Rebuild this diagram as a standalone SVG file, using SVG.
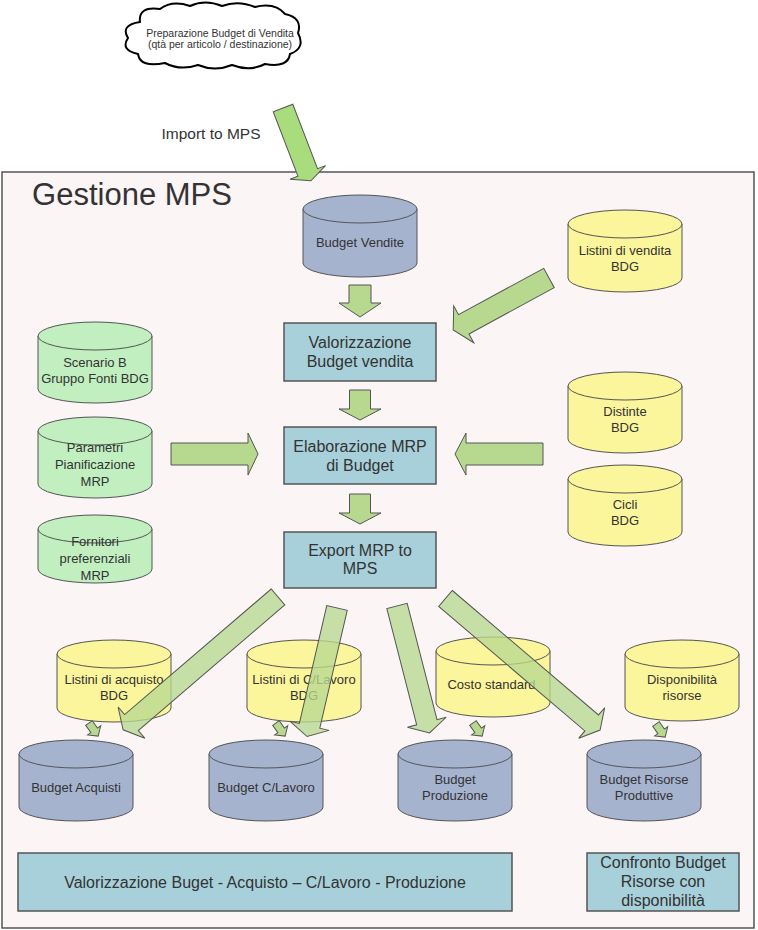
<svg xmlns="http://www.w3.org/2000/svg" width="758" height="930" viewBox="0 0 758 930">
<style>
text{font-family:"Liberation Sans",Arial,sans-serif;fill:#333;text-anchor:middle}
.c13{font-size:13px}
.b16{font-size:16px}
.cyl path,.cyl ellipse{stroke:#555;stroke-width:1}
.blue path,.blue ellipse{fill:#a6b3cf}
.yel path,.yel ellipse{fill:#fbf59b}
.grn path,.grn ellipse{fill:#c1efc0}
.box rect{fill:#a8d0da;stroke:#555;stroke-width:1.5}
.arr polygon{fill:#b7d98f;stroke:#555;stroke-width:1}
.arr .diag{fill-opacity:0.78}
.arr .imp{fill:#a8dc7c}
</style>
<rect id="frame" x="2" y="172" width="752" height="756" fill="#fbf5f5" stroke="#555" stroke-width="1.5"/>
<text x="132" y="205" style="font-size:31px">Gestione MPS</text>
<g id="cloud">
<path d="M140,22 Q138,6 160,9 Q172,0 190,6 Q205,-1 222,6 Q238,0 255,7 Q275,2 285,14 Q303,18 298,33 Q306,48 290,54 Q288,68 265,64 Q250,72 232,65 Q215,72 198,65 Q180,71 165,63 Q140,68 138,54 Q120,50 128,38 Q120,25 140,22 Z" fill="#fff" stroke="#000" stroke-width="2"/>
<text x="220" y="37" style="font-size:10.5px">Preparazione Budget di Vendita</text>
<text x="220" y="48" style="font-size:10.5px">(qtà per articolo / destinazione)</text>
</g>
<text x="211" y="139" style="font-size:15.5px">Import to MPS</text>

<g id="budget-vendite" class="cyl blue"><path d="M303,209 V263 A57,14 0 0 0 417,263 V209 Z"/><ellipse cx="360" cy="209" rx="57" ry="14"/><text class="c13" x="360" y="246.5">Budget Vendite</text></g>
<g id="listini-vendita" class="cyl yel"><path d="M568,224 V278 A57,14 0 0 0 682,278 V224 Z"/><ellipse cx="625" cy="224" rx="57" ry="14"/><text class="c13" x="625" y="254.5">Listini di vendita</text><text class="c13" x="625" y="270.5">BDG</text></g>
<g id="scenario" class="cyl grn"><path d="M38,336 V389 A57,14 0 0 0 152,389 V336 Z"/><ellipse cx="95" cy="336" rx="57" ry="14"/><text class="c13" x="95" y="366.5">Scenario B</text><text class="c13" x="95" y="382.5">Gruppo Fonti BDG</text></g>
<g id="parametri" class="cyl grn"><path d="M38,431 V484 A57,14 0 0 0 152,484 V431 Z"/><ellipse cx="95" cy="431" rx="57" ry="14"/><text class="c13" x="95" y="451.5">Parametri</text><text class="c13" x="95" y="468.5">Pianificazione</text><text class="c13" x="95" y="485.5">MRP</text></g>
<g id="fornitori" class="cyl grn"><path d="M38,529 V569 A57,14 0 0 0 152,569 V529 Z"/><ellipse cx="95" cy="529" rx="57" ry="14"/><text class="c13" x="95" y="546">Fornitori</text><text class="c13" x="95" y="563">preferenziali</text><text class="c13" x="95" y="580">MRP</text></g>
<g id="distinte" class="cyl yel"><path d="M568,386 V439 A57,14 0 0 0 682,439 V386 Z"/><ellipse cx="625" cy="386" rx="57" ry="14"/><text class="c13" x="625" y="415.5">Distinte</text><text class="c13" x="625" y="431.5">BDG</text></g>
<g id="cicli" class="cyl yel"><path d="M568,479 V532 A57,14 0 0 0 682,532 V479 Z"/><ellipse cx="625" cy="479" rx="57" ry="14"/><text class="c13" x="625" y="508.5">Cicli</text><text class="c13" x="625" y="524.5">BDG</text></g>

<g id="valorizzazione" class="box"><rect x="284" y="323" width="152" height="58"/><text class="b16" x="360" y="347.5">Valorizzazione</text><text class="b16" x="360" y="366.5">Budget vendita</text></g>
<g id="elaborazione" class="box"><rect x="284" y="427" width="152" height="57"/><text class="b16" x="360" y="451.5">Elaborazione MRP</text><text class="b16" x="360" y="470.5">di Budget</text></g>
<g id="export" class="box"><rect x="284" y="532" width="152" height="56"/><text class="b16" x="360" y="555.5">Export MRP to</text><text class="b16" x="360" y="573.5">MPS</text></g>

<g id="listini-acquisto" class="cyl yel"><path d="M57,654 V708 A57,14 0 0 0 171,708 V654 Z"/><ellipse cx="114" cy="654" rx="57" ry="14"/><text class="c13" x="114" y="683.5">Listini di acquisto</text><text class="c13" x="114" y="699.5">BDG</text></g>
<g id="listini-clavoro" class="cyl yel"><path d="M247,654 V708 A57,14 0 0 0 361,708 V654 Z"/><ellipse cx="304" cy="654" rx="57" ry="14"/><text class="c13" x="304" y="683.5">Listini di C/Lavoro</text><text class="c13" x="304" y="699.5">BDG</text></g>
<g id="costo-standard" class="cyl yel"><path d="M436,651 V703 A57,14 0 0 0 550,703 V651 Z"/><ellipse cx="493" cy="651" rx="57" ry="14"/><text class="c13" x="491.5" y="688.5">Costo standard</text></g>
<g id="disponibilita" class="cyl yel"><path d="M625,654 V707 A57,14 0 0 0 739,707 V654 Z"/><ellipse cx="682" cy="654" rx="57" ry="14"/><text class="c13" x="682" y="683.5">Disponibilità</text><text class="c13" x="682" y="699.5">risorse</text></g>

<g id="budget-acquisti" class="cyl blue"><path d="M19,754 V807 A57,14 0 0 0 133,807 V754 Z"/><ellipse cx="76" cy="754" rx="57" ry="14"/><text class="c13" x="76" y="791.5">Budget Acquisti</text></g>
<g id="budget-clavoro" class="cyl blue"><path d="M209,754 V807 A57,14 0 0 0 323,807 V754 Z"/><ellipse cx="266" cy="754" rx="57" ry="14"/><text class="c13" x="266" y="791.5">Budget C/Lavoro</text></g>
<g id="budget-produzione" class="cyl blue"><path d="M398,754 V807 A57,14 0 0 0 512,807 V754 Z"/><ellipse cx="455" cy="754" rx="57" ry="14"/><text class="c13" x="455" y="783.5">Budget</text><text class="c13" x="455" y="799.5">Produzione</text></g>
<g id="budget-risorse" class="cyl blue"><path d="M587,754 V807 A57,14 0 0 0 701,807 V754 Z"/><ellipse cx="644" cy="754" rx="57" ry="14"/><text class="c13" x="644" y="783.5">Budget Risorse</text><text class="c13" x="644" y="799.5">Produttive</text></g>

<g id="valorizzazione-buget" class="box"><rect x="18" y="853" width="494" height="58"/><text class="b16" x="265" y="887.5">Valorizzazione Buget - Acquisto – C/Lavoro - Produzione</text></g>
<g id="confronto" class="box"><rect x="587" y="853" width="152" height="58"/><text class="b16" x="663" y="868">Confronto Budget</text><text class="b16" x="663" y="887">Risorse con</text><text class="b16" x="663" y="906">disponibilità</text></g>

<g id="connectors" class="arr">
<polygon class="imp" transform="translate(283,108) rotate(69)" points="0,-10.5 69,-10.5 69,-19 78,0 69,19 69,10.5 0,10.5"/>
<polygon transform="translate(360,285) rotate(90)" points="0,-11 18,-11 18,-21 32,0 18,21 18,11 0,11"/>
<polygon transform="translate(360,390) rotate(90)" points="0,-10.5 19,-10.5 19,-21 30,0 19,21 19,10.5 0,10.5"/>
<polygon transform="translate(360,494) rotate(90)" points="0,-10.5 19,-10.5 19,-21 30,0 19,21 19,10.5 0,10.5"/>
<polygon transform="translate(549,278) rotate(151.5)" points="0,-11 97,-11 97,-21 109,0 97,21 97,11 0,11"/>
<polygon transform="translate(171,454)" points="0,-11 77,-11 77,-21 87,0 77,21 77,11 0,11"/>
<polygon transform="translate(543,454) rotate(180)" points="0,-11 77,-11 77,-21 88,0 77,21 77,11 0,11"/>
<polygon class="diag" transform="translate(278,597) rotate(139.4)" points="0,-10.5 193,-10.5 193,-20.5 204,0 193,20.5 193,10.5 0,10.5"/>
<polygon class="diag" transform="translate(337,608) rotate(103.1)" points="0,-10.5 121,-10.5 121,-20 132,0 121,20 121,10.5 0,10.5"/>
<polygon class="diag" transform="translate(397,606) rotate(75.6)" points="0,-10.5 120,-10.5 120,-20 131,0 120,20 120,10.5 0,10.5"/>
<polygon class="diag" transform="translate(445.5,598.5) rotate(40.4)" points="0,-10.5 192,-10.5 192,-20 203,0 192,20 192,10.5 0,10.5"/>
<polygon transform="translate(89,723) rotate(55)" points="0,-4 9,-4 9,-8 16,0 9,8 9,4 0,4"/>
<polygon transform="translate(276,723) rotate(55)" points="0,-4 9,-4 9,-8 16,0 9,8 9,4 0,4"/>
<polygon transform="translate(473,723) rotate(55)" points="0,-4 9,-4 9,-8 16,0 9,8 9,4 0,4"/>
<polygon transform="translate(656,724) rotate(55)" points="0,-4 9,-4 9,-8 16,0 9,8 9,4 0,4"/>
</g>
</svg>
